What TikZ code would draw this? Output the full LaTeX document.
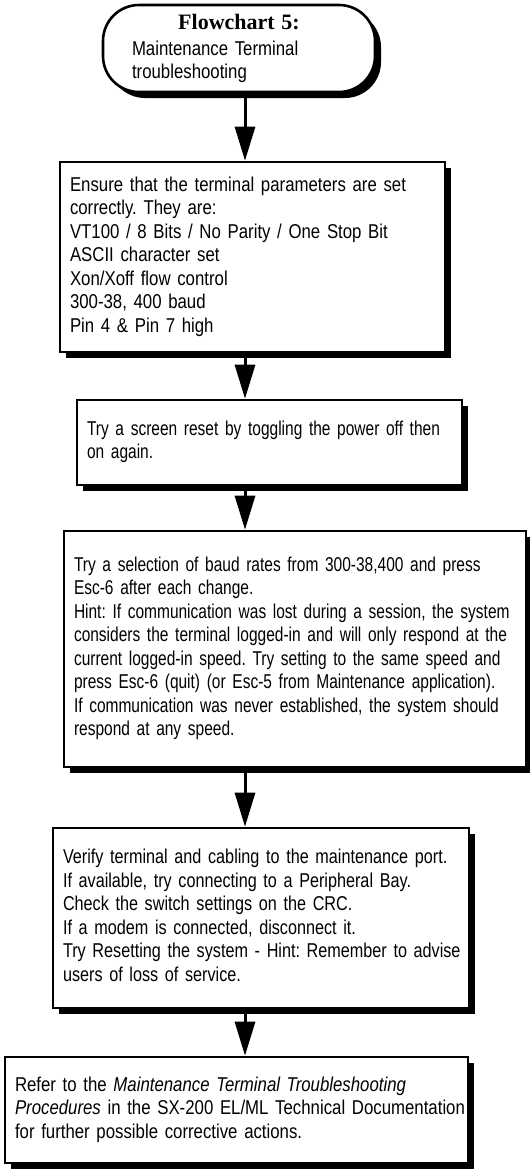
\documentclass[tikz,border=0pt]{standalone}
\usepackage{fontspec}
\setmainfont{Liberation Sans}[FakeStretch=0.84,WordSpace=0.75]
\newfontfamily\narrowerfont{Liberation Sans}[FakeStretch=0.775,WordSpace=0.75]
\newfontfamily\midnarrowfont{Liberation Sans}[FakeStretch=0.81,WordSpace=0.72]
\newfontfamily\titleserif{Liberation Serif}
\usetikzlibrary{arrows.meta,shadows}
\newcommand{\boxlines}[1]{\begin{tabular}{@{}l@{}}#1\end{tabular}}
\begin{document}
\frenchspacing
\begin{tikzpicture}[x=0.5pt,y=-0.5pt,
  shadowed/.style={drop shadow={shadow xshift=3pt,shadow yshift=-3pt,opacity=1,fill=black}},
  box/.style={draw,line width=1.3pt,fill=white,rectangle,inner xsep=5pt,inner ysep=0pt,
    align=left,font=\fontsize{10}{11.75}\selectfont\frenchspacing,shadowed},
  tightbox/.style={box,font=\narrowerfont\fontsize{10}{11.75}\selectfont\frenchspacing},
  midbox/.style={box,font=\midnarrowfont\fontsize{10}{11.75}\selectfont\frenchspacing},
  term/.style={box,rounded corners=18pt,inner xsep=14.5pt},
  arr/.style={line width=1.5pt,-{Triangle[length=17pt,width=10pt]}}]
\useasboundingbox (0,0) rectangle (530,1173);
\coordinate (ax) at (245,0);
\node[term,minimum width=136pt,minimum height=43.5pt,text width=107pt] (T) at (239,48.5)
  {{\centering\titleserif\bfseries\fontsize{11}{13}\selectfont Flowchart 5:\par}\vspace{1pt}Maintenance Terminal\\troubleshooting};
\node[box,minimum width=192.5pt,minimum height=95pt,text width=182.5pt] (B2) at (252.5,257)
  {\boxlines{Ensure that the terminal parameters are set\\
   correctly. They are:\\
   VT100 / 8 Bits / No Parity / One Stop Bit\\
   ASCII character set\\
   Xon/Xoff flow control\\
   300-38, 400 baud\\
   Pin 4 \& Pin 7 high}};
\node[tightbox,minimum width=192.5pt,minimum height=42.5pt,text width=182.5pt] (B3) at (269.5,442.5)
  {\boxlines{Try a screen reset by toggling the power off then\\
   on again.}};
\node[tightbox,minimum width=231pt,minimum height=118pt,text width=221pt] (B4) at (295,649)
  {\boxlines{Try a selection of baud rates from 300-38,400 and press\\
   Esc-6 after each change.\\
   Hint: If communication was lost during a session, the system\\
   considers the terminal logged-in and will only respond at the\\
   current logged-in speed. Try setting to the same speed and\\
   press Esc-6 (quit) (or Esc-5 from Maintenance application).\\
   If communication was never established, the system should\\
   respond at any speed.}};
\node[midbox,minimum width=208pt,minimum height=90pt,text width=198pt] (B5) at (261,918)
  {\boxlines{Verify terminal and cabling to the maintenance port.\\
   If available, try connecting to a Peripheral Bay.\\
   Check the switch settings on the CRC.\\
   If a modem is connected, disconnect it.\\
   Try Resetting the system - Hint: Remember to advise\\
   users of loss of service.}};
\node[box,minimum width=231.5pt,minimum height=53pt,text width=221.5pt] (B6) at (236.5,1110)
  {\boxlines{Refer to the \textit{Maintenance Terminal Troubleshooting}\\
   \textit{Procedures} in the SX-200 EL/ML Technical Documentation\\
   for further possible corrective actions.}};
\draw[arr] (T.south -| ax) -- (B2.north -| ax);
\draw[arr] (B2.south -| ax) -- (B3.north -| ax);
\draw[arr] (B3.south -| ax) -- (B4.north -| ax);
\draw[arr] (B4.south -| ax) -- (B5.north -| ax);
\draw[arr] (B5.south -| ax) -- (B6.north -| ax);
\end{tikzpicture}
\end{document}
